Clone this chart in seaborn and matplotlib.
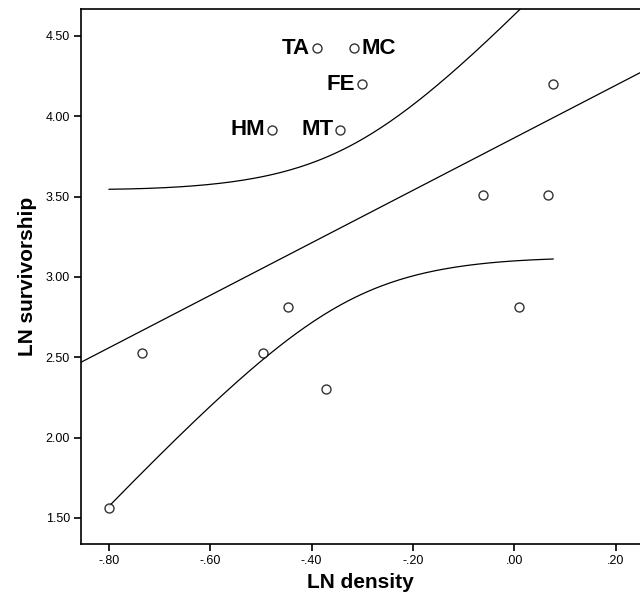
import numpy as np
import matplotlib
matplotlib.use('Agg')
import matplotlib.pyplot as plt
from matplotlib.ticker import FuncFormatter
import seaborn as sns

sns.set_style('white')
plt.rcParams['font.family'] = ['Liberation Sans', 'DejaVu Sans']
plt.rcParams.update({'text.color': 'black', 'axes.labelcolor': 'black',
                     'xtick.color': 'black', 'ytick.color': 'black'})

# values
density = [-0.389, -0.316, -0.301, -0.343, -0.478, 0.077, -0.062, 0.067,
           0.010, -0.372, -0.447, -0.495, -0.734, -0.800]
survivorship = [4.425, 4.425, 4.201, 3.915, 3.915, 4.201, 3.510, 3.510,
                2.813, 2.302, 2.813, 2.524, 2.524, 1.559]
point_labels = ['TA', 'MC', 'FE', 'MT', 'HM', '', '', '', '', '', '', '', '', '']
label_side = ['left', 'right', 'left', 'left', 'left', '', '', '', '', '', '', '', '', '']
x_ticks = [-0.8, -0.6, -0.4, -0.2, 0.0, 0.2]
y_ticks = [1.5, 2.0, 2.5, 3.0, 3.5, 4.0, 4.5]
T975_DF12 = 2.179  # t quantile for the 95% band, n-2 = 12

fig = plt.figure(figsize=(6.4, 5.98), dpi=100)
ax = fig.add_axes([81/640, 54/598, 559/640, 535/598])
ax.set_xlim(-0.855, 0.248)
ax.set_ylim(1.338, 4.668)

sns.regplot(x=density, y=survivorship, ax=ax, ci=None, truncate=False,
            marker='o',
            scatter_kws={'s': 42, 'facecolors': 'white', 'edgecolors': 'black',
                         'linewidths': 1.0, 'zorder': 3},
            line_kws={'color': 'black', 'lw': 0.9})

# 95% confidence band for the mean, over the data range
x = np.array(density); y = np.array(survivorship)
n = len(x)
slope, icpt = np.polyfit(x, y, 1)
resid = y - (slope*x + icpt)
s = np.sqrt((resid**2).sum() / (n - 2))
sxx = ((x - x.mean())**2).sum()
xg = np.linspace(x.min(), x.max(), 200)
half = T975_DF12 * s * np.sqrt(1/n + (xg - x.mean())**2 / sxx)
fit = slope*xg + icpt
ax.plot(xg, fit + half, color='black', lw=0.9)
ax.plot(xg, fit - half, color='black', lw=0.9)

for xi, yi, lab, side in zip(density, survivorship, point_labels, label_side):
    if not lab:
        continue
    dx = -5 if side == 'left' else 5
    ax.annotate(lab, (xi, yi), xytext=(dx, 0), textcoords='offset points',
                ha='right' if side == 'left' else 'left', va='center',
                fontsize=16, fontweight='bold', color='black')

ax.set_xlim(-0.855, 0.248)
ax.set_ylim(1.338, 4.668)
ax.set_xticks(x_ticks)
ax.set_yticks(y_ticks)
fmt = lambda v, p: (f'{v:.2f}'.replace('0.', '.', 1) if abs(v) < 1 else f'{v:.2f}')
ax.xaxis.set_major_formatter(FuncFormatter(fmt))
ax.yaxis.set_major_formatter(FuncFormatter(lambda v, p: f'{v:.2f}'))
ax.tick_params(axis='both', direction='out', length=5, width=1.2,
               labelsize=9, bottom=True, left=True, pad=3)
for side in ['left', 'bottom', 'top']:
    ax.spines[side].set_color('black')
    ax.spines[side].set_linewidth(1.2)
ax.spines['right'].set_visible(False)

ax.set_xlabel('LN density', fontsize=15, fontweight='bold', labelpad=4)
ax.set_ylabel('LN survivorship', fontsize=15, fontweight='bold', labelpad=6)

plt.savefig('out.png', dpi=100)
